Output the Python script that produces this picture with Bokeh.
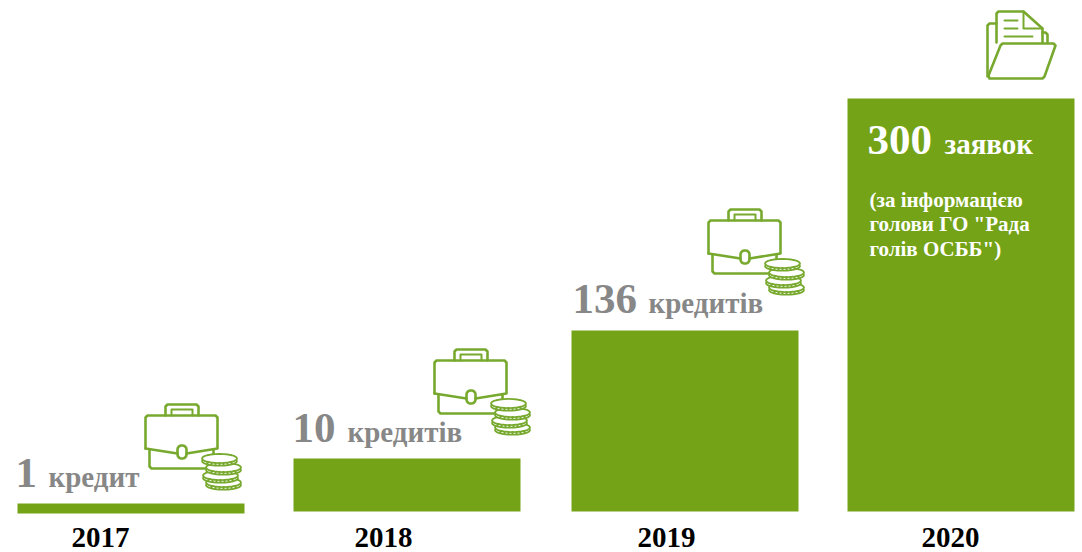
from bokeh.plotting import figure
from bokeh.models import Range1d
from bokeh.core.properties import value
from bokeh.embed import file_html
from bokeh.resources import INLINE
import math

# ---- data ----
years = ["2017", "2018", "2019", "2020"]
counts = ["1", "10", "136", "300"]
units = ["кредит", "кредитів", "кредитів", "заявок"]
bar_tops = [8, 53, 181, 413]
bar_bases = [-2, 0, 0, 0]
note_lines = ["(за інформацією", "голови ГО \"Рада", "голів ОСББ\")"]

# ---- layout (pixels of the window; y measured above the bars' base line) ----
W, H = 1082, 552
BASE = 511
def Y(py):
    return BASE - py
bar_left = [17, 293, 571, 847]
bar_w = 227
year_x = [100, 383, 666, 950]
year_base = 547
count_x = [15, 292, 572, 867]
count_base = [488, 443, 314, 155]
unit_base = [487, 442, 313, 154]
unit_x = [48, 347, 648, 944]
briefcase_at = [(145, 404), (434, 349), (708, 209)]
note_x = 869
note_base = [207, 231, 256]
BASELINE_SHIFT = 0.36

GREEN = "#74a318"
ICON = "#78a92f"
GREY = "#878787"
SERIF = value("Liberation Serif")

p = figure(width=W, height=H, output_backend="svg", toolbar_location=None,
           x_range=Range1d(0, W), y_range=Range1d(Y(H), Y(0)),
           min_border=0, outline_line_color=None)
p.axis.visible = False
p.grid.visible = False
p.background_fill_color = "white"

p.quad(left=bar_left, right=[x + bar_w for x in bar_left], bottom=bar_bases, top=bar_tops,
       fill_color=GREEN, line_color=None)

def label(x, py, txt, size, color, align="left"):
    p.text(x=[x], y=[Y(py - BASELINE_SHIFT * size)], text=[txt], text_font=SERIF,
           text_font_style="bold", text_font_size=f"{size}px", text_color=color,
           text_align=align, text_baseline="alphabetic")

for i in range(4):
    label(year_x[i], year_base, years[i], 29, "#000000", "center")
    c = "#ffffff" if i == 3 else GREY
    label(count_x[i], count_base[i], counts[i], 43, c)
    label(unit_x[i], unit_base[i], units[i], 29, c)
for ln, b in zip(note_lines, note_base):
    label(note_x, b, ln, 21, "#ffffff")

def stroke(xs, ys, ox, oy, w=2.6):
    p.line([ox + x for x in xs], [Y(oy + y) for y in ys], line_color=ICON, line_width=w,
           line_join="round", line_cap="round")

def rounded(x0, y0, x1, y1, r=2):
    xs, ys = [], []
    for cx, cy, a0 in [(x1 - r, y0 + r, -90), (x1 - r, y1 - r, 0), (x0 + r, y1 - r, 90), (x0 + r, y0 + r, 180)]:
        for k in range(5):
            a = math.radians(a0 + k * 22.5)
            xs.append(cx + r * math.cos(a))
            ys.append(cy + r * math.sin(a))
    xs.append(xs[0]); ys.append(ys[0])
    return xs, ys

def coin(ox, oy, cx, cy):
    n = 24
    xs = [ox + cx + 17.5 * math.cos(2 * math.pi * k / n) for k in range(n + 1)]
    top = [Y(oy + cy + 4.6 * math.sin(2 * math.pi * k / n)) for k in range(n + 1)]
    low = [Y(oy + cy + 2.6 + 4.6 * math.sin(2 * math.pi * k / n)) for k in range(n + 1)]
    p.patch(xs, low, fill_color="white", line_color=ICON, line_width=1.8)
    p.patch(xs, top, fill_color="white", line_color=ICON, line_width=1.8)
    p.line([ox + cx - 13, ox + cx + 13], [Y(oy + cy + 5.0)] * 2, line_color=ICON,
           line_width=3, line_dash="2 2")

def briefcase(ox, oy):
    stroke([20, 20, 22, 51, 53, 53], [11, 2, 0, 0, 2, 11], ox, oy)
    stroke([26, 26, 47, 47], [11, 5, 5, 11], ox, oy, 2)
    stroke([0, 0, 2, 70, 72, 72, 41], [44, 13, 11, 11, 13, 44, 49], ox, oy)
    stroke([0, 32], [44, 49], ox, oy)
    stroke([4, 4, 6, 60], [46, 62, 64, 64], ox, oy)
    stroke([68, 68], [46, 56], ox, oy)
    x, y = rounded(32, 41, 41, 54, 4)
    stroke(x, y, ox, oy)
    coin(ox, oy, 78, 78)
    coin(ox, oy, 75, 71)
    coin(ox, oy, 78, 63)
    coin(ox, oy, 74, 54)

for ox, oy in briefcase_at:
    briefcase(ox, oy)

def folder(ox, oy):
    stroke([11, 4, 2, 2], [23, 23, 25, 76], ox, oy)
    stroke([11, 11, 13, 38, 57, 57], [42, 13, 11, 11, 28, 42], ox, oy)
    stroke([38, 38, 57], [11, 28, 28], ox, oy, 2)
    stroke([19, 32], [20, 20], ox, oy, 2)
    stroke([19, 32], [28, 28], ox, oy, 2)
    stroke([19, 47], [36, 36], ox, oy, 2)
    stroke([57, 60, 62, 62], [32, 32, 34, 42], ox, oy)
    stroke([3, 15, 17, 68, 70, 59, 57, 4, 3], [75, 45, 43, 43, 45, 76, 78, 78, 75], ox, oy)

folder(985, 0)

open("out.html", "w").write(file_html(p, INLINE))
